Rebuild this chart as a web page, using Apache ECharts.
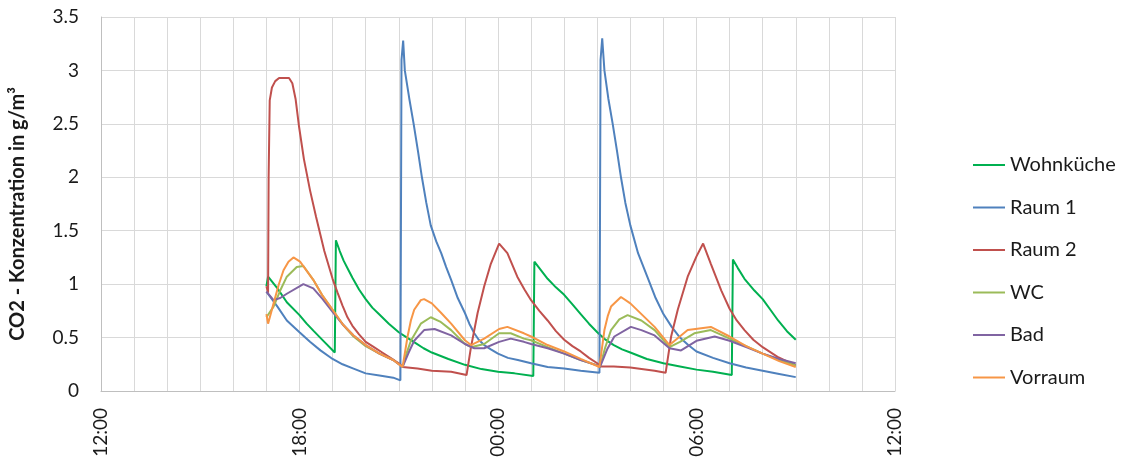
<!DOCTYPE html>
<html>
<head>
<meta charset="utf-8">
<script src="https://cdn.jsdelivr.net/npm/echarts@6/dist/echarts.min.js"></script>
<style>
  html, body { margin: 0; padding: 0; background: #fff; }
  #chart { width: 1125px; height: 466px; }
</style>
</head>
<body>
<div id="chart"></div>
<script>
// ---- Data (clock time, CO2 concentration in g/m³) ----
const seriesNames = ['Wohnküche', 'Raum 1', 'Raum 2', 'WC', 'Bad', 'Vorraum'];
const seriesColors = ['#00B050', '#4F81BD', '#C0504D', '#9BBB59', '#8064A2', '#F79646'];
const xTickLabels = ['12:00', '18:00', '00:00', '06:00', '12:00'];

const wohnkueche = [
  ['17:00', 0.98], ['17:03', 1.07], ['17:20', 0.96], ['17:37', 0.83], ['18:00', 0.71],
  ['18:13', 0.63], ['18:26', 0.56], ['18:45', 0.46], ['19:04', 0.36], ['19:06', 1.41],
  ['19:13', 1.31], ['19:20', 1.22], ['19:28', 1.14], ['19:36', 1.06], ['19:48', 0.95],
  ['20:00', 0.86], ['20:12', 0.78], ['20:24', 0.72], ['20:42', 0.63], ['21:00', 0.55],
  ['21:15', 0.50], ['21:30', 0.45], ['21:45', 0.40], ['22:00', 0.36], ['22:30', 0.30],
  ['23:00', 0.245], ['23:30', 0.205], ['00:00', 0.18], ['00:30', 0.165], ['01:04', 0.14],
  ['01:06', 1.21], ['01:15', 1.15], ['01:30', 1.05], ['01:45', 0.97], ['02:00', 0.90],
  ['02:15', 0.81], ['02:30', 0.72], ['02:45', 0.63], ['03:00', 0.55], ['03:15', 0.48],
  ['03:30', 0.43], ['03:45', 0.39], ['04:00', 0.36], ['04:30', 0.30], ['05:00', 0.26],
  ['05:30', 0.23], ['06:00', 0.20], ['06:30', 0.18], ['07:04', 0.15], ['07:06', 1.23],
  ['07:15', 1.15], ['07:27', 1.05], ['07:45', 0.94], ['08:00', 0.86], ['08:14', 0.76],
  ['08:28', 0.66], ['08:44', 0.56], ['09:00', 0.48]
];
const raum1 = [
  ['17:00', 0.93], ['17:10', 0.86], ['17:20', 0.79], ['17:37', 0.66], ['18:00', 0.55],
  ['18:19', 0.46], ['18:38', 0.38], ['19:00', 0.30], ['19:18', 0.25], ['19:38', 0.21],
  ['20:00', 0.165], ['20:25', 0.145], ['20:50', 0.125], ['21:03', 0.10], ['21:05', 3.10],
  ['21:08', 3.28], ['21:11', 3.00], ['21:19', 2.74], ['21:27', 2.50], ['21:35', 2.24],
  ['21:42', 2.00], ['21:50', 1.76], ['21:58', 1.55], ['22:08', 1.40], ['22:17', 1.29],
  ['22:26', 1.16], ['22:35', 1.04], ['22:47', 0.87], ['23:00', 0.73], ['23:08', 0.63],
  ['23:17', 0.54], ['23:25', 0.48], ['23:35', 0.43], ['23:47', 0.39], ['00:00', 0.35],
  ['00:18', 0.31], ['00:36', 0.29], ['01:00', 0.26], ['01:30', 0.225], ['02:00', 0.21],
  ['02:30', 0.19], ['03:04', 0.17], ['03:06', 3.10], ['03:09', 3.30], ['03:13', 3.00],
  ['03:20', 2.74], ['03:28', 2.50], ['03:36', 2.24], ['03:43', 2.00], ['03:51', 1.76],
  ['04:00', 1.55], ['04:14', 1.29], ['04:30', 1.08], ['04:45', 0.88], ['05:00', 0.72],
  ['05:15', 0.60], ['05:30', 0.50], ['05:45', 0.43], ['06:00', 0.37], ['06:30', 0.31],
  ['07:00', 0.26], ['07:30', 0.22], ['08:00', 0.19], ['08:30', 0.16], ['09:00', 0.13]
];
const raum2 = [
  ['17:00', 0.98], ['17:03', 0.92], ['17:04', 2.00], ['17:06', 2.72], ['17:10', 2.84],
  ['17:16', 2.90], ['17:23', 2.93], ['17:41', 2.93], ['17:47', 2.88], ['17:53', 2.73],
  ['17:59', 2.48], ['18:08', 2.17], ['18:19', 1.88], ['18:30', 1.63], ['18:45', 1.31],
  ['19:00', 1.05], ['19:09', 0.92], ['19:18', 0.80], ['19:27', 0.69], ['19:36', 0.61],
  ['19:48', 0.53], ['20:00', 0.46], ['20:15', 0.41], ['20:30', 0.36], ['20:45', 0.31],
  ['21:00', 0.26], ['21:07', 0.225], ['21:34', 0.21], ['22:00', 0.19], ['22:35', 0.18],
  ['23:03', 0.15], ['23:11', 0.41], ['23:23', 0.73], ['23:35', 0.98], ['23:47', 1.19],
  ['00:02', 1.38], ['00:17', 1.29], ['00:35', 1.07], ['00:48', 0.95], ['01:00', 0.85],
  ['01:15', 0.75], ['01:30', 0.66], ['01:45', 0.56], ['02:00', 0.48], ['02:15', 0.42],
  ['02:30', 0.37], ['02:45', 0.31], ['03:00', 0.26], ['03:05', 0.23], ['03:30', 0.23],
  ['04:00', 0.22], ['04:44', 0.19], ['05:04', 0.17], ['05:14', 0.51], ['05:26', 0.76],
  ['05:44', 1.07], ['06:00', 1.26], ['06:12', 1.38], ['06:26', 1.19], ['06:45', 0.94],
  ['07:00', 0.77], ['07:13', 0.66], ['07:27', 0.57], ['07:43', 0.48], ['08:00', 0.41],
  ['08:27', 0.32], ['09:00', 0.24]
];
const wc = [
  ['17:00', 0.69], ['17:13', 0.79], ['17:25', 0.94], ['17:37', 1.07], ['17:55', 1.16],
  ['18:07', 1.17], ['18:25', 1.04], ['18:42', 0.89], ['19:00', 0.76], ['19:19', 0.62],
  ['19:38', 0.51], ['20:00', 0.42], ['20:25', 0.35], ['20:50', 0.29], ['21:07', 0.225],
  ['21:14', 0.35], ['21:22', 0.47], ['21:40', 0.63], ['21:58', 0.69], ['22:15', 0.65],
  ['22:35', 0.57], ['23:00', 0.44], ['23:11', 0.41], ['23:35', 0.44], ['00:02', 0.54],
  ['00:23', 0.54], ['00:47', 0.49], ['01:00', 0.475], ['01:30', 0.41], ['02:00', 0.35],
  ['02:30', 0.29], ['03:00', 0.24], ['03:05', 0.225], ['03:14', 0.40], ['03:25', 0.57],
  ['03:40', 0.67], ['03:55', 0.71], ['04:20', 0.66], ['04:44', 0.57], ['05:11', 0.41],
  ['05:30', 0.46], ['05:56', 0.54], ['06:26', 0.57], ['07:00', 0.49], ['07:30', 0.42],
  ['08:00', 0.35], ['08:30', 0.29], ['09:00', 0.24]
];
const bad = [
  ['17:00', 0.93], ['17:13', 0.85], ['17:25', 0.87], ['17:37', 0.91], ['18:07', 1.00],
  ['18:25', 0.96], ['18:42', 0.86], ['19:00', 0.74], ['19:19', 0.62], ['19:38', 0.52],
  ['20:00', 0.43], ['20:25', 0.35], ['20:50', 0.29], ['21:07', 0.225], ['21:18', 0.36],
  ['21:28', 0.47], ['21:46', 0.57], ['22:05', 0.58], ['22:35', 0.52], ['23:00', 0.44],
  ['23:17', 0.40], ['23:35', 0.40], ['00:02', 0.46], ['00:23', 0.49], ['00:47', 0.46],
  ['01:00', 0.44], ['01:30', 0.40], ['02:00', 0.35], ['02:30', 0.29], ['03:00', 0.24],
  ['03:05', 0.225], ['03:18', 0.39], ['03:31', 0.51], ['04:01', 0.60], ['04:20', 0.57],
  ['04:44', 0.52], ['05:11', 0.40], ['05:32', 0.38], ['06:00', 0.47], ['06:33', 0.51],
  ['07:00', 0.47], ['07:30', 0.41], ['08:00', 0.35], ['08:30', 0.30], ['09:00', 0.26]
];
const vorraum = [
  ['17:00', 0.72], ['17:03', 0.63], ['17:13', 0.82], ['17:22', 0.99], ['17:31', 1.13],
  ['17:40', 1.21], ['17:49', 1.25], ['18:01', 1.21], ['18:25', 1.04], ['18:42', 0.89],
  ['19:00', 0.76], ['19:19', 0.62], ['19:38', 0.52], ['20:00', 0.43], ['20:25', 0.35],
  ['20:50', 0.29], ['21:07', 0.225], ['21:16', 0.51], ['21:22', 0.66], ['21:28', 0.76],
  ['21:40', 0.85], ['21:46', 0.86], ['22:00', 0.82], ['22:17', 0.73], ['22:35', 0.63],
  ['23:00', 0.475], ['23:11', 0.43], ['23:35', 0.49], ['00:02', 0.58], ['00:17', 0.60],
  ['00:47', 0.54], ['01:00', 0.51], ['01:30', 0.43], ['02:00', 0.37], ['02:30', 0.30],
  ['03:04', 0.225], ['03:13', 0.57], ['03:19', 0.70], ['03:25', 0.79], ['03:43', 0.88],
  ['04:00', 0.82], ['04:22', 0.71], ['04:44', 0.60], ['05:11', 0.43], ['05:44', 0.57],
  ['06:26', 0.60], ['07:00', 0.51], ['07:30', 0.42], ['08:00', 0.35], ['08:30', 0.28],
  ['09:00', 0.225]
];
const allSeries = [wohnkueche, raum1, raum2, wc, bad, vorraum];

// hours elapsed since 12:00 (axis start)
function toHours(s) {
  const p = s.split(':').map(Number);
  let t = p[0] + p[1] / 60 - 12;
  if (t < 0) t += 24;
  return t;
}

const chart = echarts.init(document.getElementById('chart'), null, { renderer: 'canvas' });
const FONT = 'Lato';
const option = {
  animation: false,
  backgroundColor: '#ffffff',
  grid: { left: 101, right: 230, top: 17, bottom: 75, containLabel: false },
  xAxis: {
    type: 'value', min: 0, max: 24, interval: 1,
    axisLine: { show: true, lineStyle: { color: '#bfbfbf', width: 1 } },
    axisTick: { show: false },
    splitLine: { show: true, lineStyle: { color: '#d9d9d9', width: 1 } },
    axisLabel: {
      rotate: 90, margin: 17, fontFamily: FONT, fontSize: 19, color: '#1a1a1a',
      showMinLabel: true, showMaxLabel: true,
      formatter: v => (v % 6 === 0 ? xTickLabels[v / 6] : '')
    }
  },
  yAxis: {
    type: 'value', min: 0, max: 3.5, interval: 0.5,
    name: 'CO2 - Konzentration in g/m³', nameLocation: 'middle', nameGap: 73,
    nameTextStyle: {
      fontFamily: FONT, fontSize: 20, fontWeight: 'bold', color: '#1a1a1a',
      padding: [0, 20, 0, 0]
    },
    axisLine: { show: true, lineStyle: { color: '#bfbfbf', width: 1 } },
    axisTick: { show: false },
    splitLine: { show: true, lineStyle: { color: '#d9d9d9', width: 1 } },
    axisLabel: { margin: 22, fontFamily: FONT, fontSize: 19, color: '#1a1a1a' }
  },
  legend: {
    orient: 'vertical', left: 968, top: 150,
    icon: 'rect', itemWidth: 32, itemHeight: 2, itemGap: 22.5,
    textStyle: { fontFamily: FONT, fontSize: 20, color: '#1a1a1a' },
    data: seriesNames
  },
  series: allSeries.map((arr, i) => ({
    name: seriesNames[i],
    type: 'line',
    showSymbol: false,
    smooth: false,
    color: seriesColors[i],
    lineStyle: { width: 2, color: seriesColors[i] },
    data: arr.map(d => [toHours(d[0]), d[1]])
  }))
};
chart.setOption(option);
</script>
</body>
</html>
